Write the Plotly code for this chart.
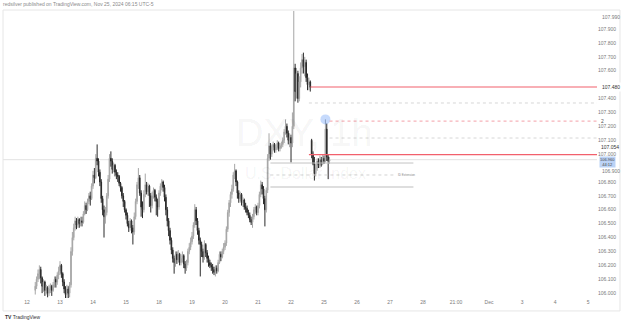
import plotly.graph_objects as go

# ---------------- data (1h DXY candles) ----------------
FIRST_HOUR = 6          # first bar: Nov 12, 06:00
FIRST_OPEN = 106.02
GAP_HOUR = 207          # first bar after the weekend
GAP_OPEN = 107.10

CLOSE = [
    # Nov 12
    106.05, 106.10, 106.14, 106.17, 106.11, 106.05, 106.08, 106.02, 106.04, 106.00, 106.03, 106.05, 106.02, 106.06, 106.10, 106.08, 106.13, 106.16,
    # Nov 13
    106.20, 106.14, 106.08, 106.03, 105.99, 106.03, 106.00, 106.06, 106.30, 106.40, 106.47, 106.52, 106.49, 106.53, 106.50, 106.52, 106.51, 106.57, 106.63, 106.60, 106.66, 106.70, 106.68, 106.77,
    # Nov 14
    106.85, 106.83, 106.97, 106.95, 106.87, 106.80, 106.68, 106.60, 106.55, 106.58, 106.70, 106.82, 106.97, 106.95, 106.89, 106.92, 106.87, 106.85, 106.84, 106.79, 106.76, 106.70, 106.66, 106.60,
    # Nov 15
    106.56, 106.50, 106.47, 106.52, 106.47, 106.44, 106.55, 106.66, 106.78, 106.83, 106.72, 106.62, 106.60, 106.71, 106.78, 106.73, 106.77, 106.70, 106.63, 106.70, 106.74, 106.69, 106.66, 106.62,
    # Nov 18
    106.72, 106.77, 106.80, 106.76, 106.69, 106.60, 106.52, 106.45, 106.38, 106.31, 106.25, 106.22, 106.28, 106.24, 106.28, 106.22, 106.25, 106.27, 106.21, 106.18, 106.22, 106.30, 106.33, 106.37,
    # Nov 19
    106.41, 106.49, 106.60, 106.52, 106.45, 106.38, 106.35, 106.30, 106.26, 106.35, 106.29, 106.25, 106.22, 106.20, 106.19, 106.17, 106.15, 106.18, 106.16, 106.22, 106.28, 106.26, 106.30, 106.33,
    # Nov 20
    106.36, 106.46, 106.58, 106.65, 106.71, 106.75, 106.85, 106.88, 106.80, 106.72, 106.68, 106.71, 106.65, 106.67, 106.62, 106.61, 106.58, 106.56, 106.53, 106.51, 106.55, 106.60, 106.62, 106.58,
    # Nov 21
    106.63, 106.71, 106.78, 106.75, 106.68, 106.60, 106.74, 106.97, 107.06, 107.00, 107.05, 107.07, 107.03, 107.05, 107.08, 107.04, 107.06, 107.07, 107.10, 107.16, 107.20, 107.15, 107.10, 107.12,
    # Nov 22
    107.08, 107.20, 107.62, 107.45, 107.58, 107.40, 107.52, 107.62, 107.68, 107.63, 107.66, 107.55, 107.50, 107.52, 107.48,
    # Nov 25 session
    107.00, 106.93, 106.86, 106.90, 106.95, 106.92, 106.96, 106.93, 106.97, 106.95, 107.18, 106.98, 106.95, 106.96,
]

HIGH = [
    106.08, 106.12, 106.17, 106.20, 106.19, 106.12, 106.10, 106.09, 106.06, 106.05, 106.06, 106.07, 106.06, 106.08, 106.12, 106.12, 106.15, 106.19,
    106.23, 106.21, 106.15, 106.10, 106.05, 106.06, 106.05, 106.08, 106.33, 106.44, 106.50, 106.55, 106.54, 106.55, 106.54, 106.55, 106.55, 106.59, 106.66, 106.65, 106.68, 106.72, 106.73, 106.79,
    106.88, 106.90, 107.00, 107.07, 106.97, 106.89, 106.82, 106.70, 106.63, 106.62, 106.72, 106.85, 107.00, 107.02, 106.97, 106.94, 106.93, 106.89, 106.87, 106.85, 106.80, 106.77, 106.72, 106.67,
    106.61, 106.58, 106.52, 106.54, 106.53, 106.49, 106.58, 106.68, 106.80, 106.90, 106.85, 106.74, 106.66, 106.74, 106.86, 106.80, 106.79, 106.78, 106.72, 106.73, 106.76, 106.75, 106.71, 106.68,
    106.74, 106.79, 106.82, 106.81, 106.78, 106.71, 106.62, 106.54, 106.47, 106.40, 106.33, 106.27, 106.30, 106.30, 106.31, 106.29, 106.28, 106.30, 106.28, 106.23, 106.24, 106.32, 106.36, 106.40,
    106.44, 106.51, 106.64, 106.62, 106.54, 106.47, 106.40, 106.37, 106.32, 106.38, 106.36, 106.31, 106.27, 106.24, 106.22, 106.21, 106.19, 106.20, 106.20, 106.24, 106.30, 106.30, 106.32, 106.36,
    106.38, 106.48, 106.60, 106.67, 106.73, 106.78, 106.87, 106.93, 106.89, 106.81, 106.74, 106.73, 106.72, 106.69, 106.68, 106.65, 106.63, 106.60, 106.58, 106.55, 106.57, 106.62, 106.64, 106.63,
    106.65, 106.73, 106.81, 106.80, 106.77, 106.70, 106.76, 107.00, 107.15, 107.08, 107.07, 107.09, 107.08, 107.07, 107.10, 107.09, 107.08, 107.09, 107.12, 107.18, 107.25, 107.22, 107.17, 107.15,
    107.14, 107.30, 108.03, 107.65, 107.62, 107.60, 107.56, 107.66, 107.72, 107.73, 107.70, 107.68, 107.58, 107.55, 107.53,
    107.11, 107.02, 106.98, 106.93, 106.97, 106.97, 106.99, 106.98, 107.00, 106.99, 107.25, 107.22, 107.00, 106.98,
]

LOW = [
    105.99, 106.03, 106.08, 106.10, 106.07, 106.00, 106.01, 105.98, 105.99, 105.97, 105.98, 106.00, 105.98, 106.01, 106.04, 106.04, 106.06, 106.10,
    106.13, 106.11, 106.05, 106.00, 105.96, 105.96, 105.96, 105.97, 106.04, 106.27, 106.38, 106.45, 106.46, 106.47, 106.47, 106.48, 106.48, 106.50, 106.56, 106.57, 106.59, 106.64, 106.63, 106.67,
    106.75, 106.79, 106.82, 106.92, 106.84, 106.77, 106.65, 106.56, 106.40, 106.50, 106.56, 106.68, 106.80, 106.91, 106.86, 106.87, 106.84, 106.82, 106.80, 106.77, 106.73, 106.68, 106.62, 106.58,
    106.53, 106.48, 106.44, 106.45, 106.43, 106.35, 106.42, 106.53, 106.64, 106.75, 106.70, 106.55, 106.54, 106.58, 106.69, 106.71, 106.70, 106.62, 106.58, 106.61, 106.68, 106.66, 106.56, 106.55,
    106.60, 106.70, 106.74, 106.73, 106.66, 106.56, 106.48, 106.41, 106.35, 106.28, 106.22, 106.14, 106.19, 106.21, 106.22, 106.20, 106.20, 106.22, 106.18, 106.14, 106.16, 106.20, 106.28, 106.31,
    106.35, 106.39, 106.47, 106.49, 106.42, 106.35, 106.12, 106.26, 106.22, 106.24, 106.26, 106.22, 106.19, 106.18, 106.16, 106.14, 106.13, 106.12, 106.14, 106.15, 106.21, 106.23, 106.25, 106.28,
    106.31, 106.34, 106.44, 106.55, 106.62, 106.68, 106.73, 106.82, 106.77, 106.68, 106.65, 106.66, 106.63, 106.62, 106.60, 106.58, 106.56, 106.54, 106.51, 106.49, 106.47, 106.53, 106.57, 106.56,
    106.56, 106.61, 106.69, 106.71, 106.64, 106.48, 106.58, 106.72, 106.95, 106.96, 106.98, 107.02, 107.01, 107.01, 107.03, 107.02, 107.02, 107.04, 107.05, 107.08, 107.14, 107.12, 107.07, 107.05,
    106.94, 107.05, 107.18, 107.38, 107.40, 107.37, 107.38, 107.48, 107.58, 107.58, 107.56, 107.52, 107.46, 107.46, 107.45,
    106.97, 106.92, 106.81, 106.84, 106.88, 106.90, 106.90, 106.91, 106.92, 106.93, 106.94, 106.95, 106.82, 106.93,
]

DAY_LABELS = ["12", "13", "14", "15", "18", "19", "20", "21", "22",
              "25", "26", "27", "28", "21:00", "Dec", "3", "4", "5"]
HOURS_PER_DAY = 24

# price-scale labels on the axis (107.500 hidden by the 107.480 label;
# 106.900 is pushed just below the current-price tag, drawn separately)
Y_TICKS = [106.0, 106.1, 106.2, 106.3, 106.4, 106.5, 106.6, 106.7, 106.8,
           107.0, 107.1, 107.2, 107.3, 107.4, 107.6, 107.7, 107.8, 107.9]
PUSHED_TICK = 106.9

# drawn levels (price, start hour)
RED_LEVELS = [(107.483, 206), (106.997, 205)]
GRAY_DOTTED_LEVELS = [(107.368, 205), (107.116, 220)]
PINK_DOTTED_LEVEL = (107.238, 220)
LAST_PRICE = 106.96
SIGNAL_POINT = (217, 107.25)
BOX_TOP, BOX_MID, BOX_BOT = 106.936, 106.850, 106.763
BOX_START, BOX_MID_END, BOX_END = 177, 267, 281

# ---------------- build ----------------
n = len(CLOSE)
hours = [FIRST_HOUR + i for i in range(n)]
opens = [FIRST_OPEN] + CLOSE[:-1]
opens[GAP_HOUR - FIRST_HOUR] = GAP_OPEN
highs = [max(h, o, c) for h, o, c in zip(HIGH, opens, CLOSE)]
lows = [min(l, o, c) for l, o, c in zip(LOW, opens, CLOSE)]

X_RANGE = [-17.45, 414.5]
Y_RANGE = [105.965, 108.037]

UP = "#a6a6a6"
DOWN = "#2a2a2a"
FONT = "Liberation Sans"
AXIS_GRAY = "#7a7a7a"

fig = go.Figure()
fig.add_trace(go.Candlestick(
    x=hours, open=opens, high=highs, low=lows, close=CLOSE,
    increasing=dict(line=dict(color=UP, width=1), fillcolor=UP),
    decreasing=dict(line=dict(color=DOWN, width=1), fillcolor=DOWN),
    whiskerwidth=0, hoverinfo="skip", showlegend=False,
))
fig.add_trace(go.Scatter(
    x=[SIGNAL_POINT[0]], y=[SIGNAL_POINT[1]], mode="markers",
    marker=dict(size=10, color="rgba(66,133,244,0.30)"),
    hoverinfo="skip", showlegend=False,
))

shapes = []
# last price line
shapes.append(dict(type="line", xref="x", yref="y", x0=X_RANGE[0], x1=X_RANGE[1],
                   y0=LAST_PRICE, y1=LAST_PRICE, line=dict(color="#e2e2e2", width=1), layer="below"))
for lvl, start in RED_LEVELS:
    shapes.append(dict(type="line", xref="x", yref="y", x0=start, x1=X_RANGE[1],
                       y0=lvl, y1=lvl, line=dict(color="#f2606c", width=1.2)))
for lvl, start in GRAY_DOTTED_LEVELS:
    shapes.append(dict(type="line", xref="x", yref="y", x0=start, x1=X_RANGE[1],
                       y0=lvl, y1=lvl, line=dict(color="#d6d6d6", width=1, dash="dot")))
shapes.append(dict(type="line", xref="x", yref="y", x0=PINK_DOTTED_LEVEL[1], x1=X_RANGE[1],
                   y0=PINK_DOTTED_LEVEL[0], y1=PINK_DOTTED_LEVEL[0],
                   line=dict(color="#f6b3b9", width=1.2, dash="dot")))
# box
shapes.append(dict(type="line", xref="x", yref="y", x0=BOX_START, x1=BOX_END,
                   y0=BOX_TOP, y1=BOX_TOP, line=dict(color="#c4c4c4", width=1)))
shapes.append(dict(type="line", xref="x", yref="y", x0=BOX_START, x1=BOX_MID_END,
                   y0=BOX_MID, y1=BOX_MID, line=dict(color="#d2d2d2", width=1, dash="dot")))
shapes.append(dict(type="line", xref="x", yref="y", x0=BOX_START, x1=BOX_END,
                   y0=BOX_BOT, y1=BOX_BOT, line=dict(color="#dedede", width=2)))
# outer frame
shapes.append(dict(type="rect", xref="paper", yref="paper", x0=0, x1=1.0387, y0=-0.045, y1=1.0,
                   line=dict(color="#e6e6e6", width=1)))

annotations = [
    dict(text="DXY, 1h", xref="paper", yref="paper", x=0.508, y=0.573, showarrow=False,
         font=dict(family=FONT, size=38, color="rgba(0,0,0,0.055)")),
    dict(text="U.S. Dollar Index", xref="paper", yref="paper", x=0.51, y=0.431, showarrow=False,
         font=dict(family=FONT, size=16, color="rgba(0,0,0,0.055)")),
    dict(text="redsilver published on TradingView.com, Nov 25, 2024 06:15 UTC-5",
         xref="paper", yref="paper", x=-0.003, y=1.021, xanchor="left", yanchor="middle",
         showarrow=False, font=dict(family=FONT, size=5, color="#8a8a8a")),
    dict(text="<b>TV</b> TradingView", xref="paper", yref="paper", x=0.0, y=-0.066,
         xanchor="left", yanchor="middle", showarrow=False,
         font=dict(family=FONT, size=5, color="#333333")),
    dict(text="ID Extension", xref="x", yref="y", x=BOX_MID_END + 1, y=BOX_MID,
         xanchor="left", yanchor="middle", showarrow=False,
         font=dict(family=FONT, size=3, color="#888888")),
    dict(text="2", xref="paper", yref="y", x=1.003, y=PINK_DOTTED_LEVEL[0],
         xanchor="left", yanchor="middle", showarrow=False,
         font=dict(family=FONT, size=5, color="#555555")),
    dict(text="107.990", xref="paper", yref="y", x=1.005, y=107.99,
         xanchor="left", yanchor="middle", showarrow=False,
         font=dict(family=FONT, size=5, color=AXIS_GRAY)),
    dict(text="107.480", xref="paper", yref="y", x=1.005, y=RED_LEVELS[0][0],
         xanchor="left", yanchor="middle", showarrow=False, bgcolor="#ffffff",
         font=dict(family=FONT, size=5, color="#333333")),
    dict(text="107.054", xref="paper", yref="y", x=1.005, y=107.051,
         xanchor="left", yanchor="middle", showarrow=False,
         borderpad=0, font=dict(family=FONT, size=5, color="#333333")),
    dict(text="106.960<br>44:12", xref="paper", yref="y", x=1.003, y=106.940,
         xanchor="left", yanchor="middle", showarrow=False, bgcolor="#bcd3f6",
         borderpad=0, font=dict(family=FONT, size=4, color="#444444")),
    dict(text=f"{PUSHED_TICK:.3f}", xref="paper", yref="y", x=1.0055, y=106.877,
         xanchor="left", yanchor="middle", showarrow=False,
         font=dict(family=FONT, size=5, color=AXIS_GRAY)),
]

fig.update_layout(
    width=625, height=323,
    margin=dict(l=3, r=28, t=10, b=25),
    paper_bgcolor="white", plot_bgcolor="white",
    showlegend=False,
    shapes=shapes, annotations=annotations,
    xaxis=dict(range=X_RANGE, rangeslider=dict(visible=False), showgrid=False, zeroline=False,
               tickmode="array",
               tickvals=[HOURS_PER_DAY * k for k in range(len(DAY_LABELS))],
               ticktext=DAY_LABELS, ticks="", showline=False,
               tickfont=dict(family=FONT, size=5, color=AXIS_GRAY)),
    yaxis=dict(range=Y_RANGE, side="right", showgrid=False, zeroline=False,
               tickmode="array", tickvals=Y_TICKS,
               ticktext=[f"{v:.3f}" for v in Y_TICKS], ticks="", showline=False,
               tickfont=dict(family=FONT, size=5, color=AXIS_GRAY)),
)

fig.write_html("out.html")
